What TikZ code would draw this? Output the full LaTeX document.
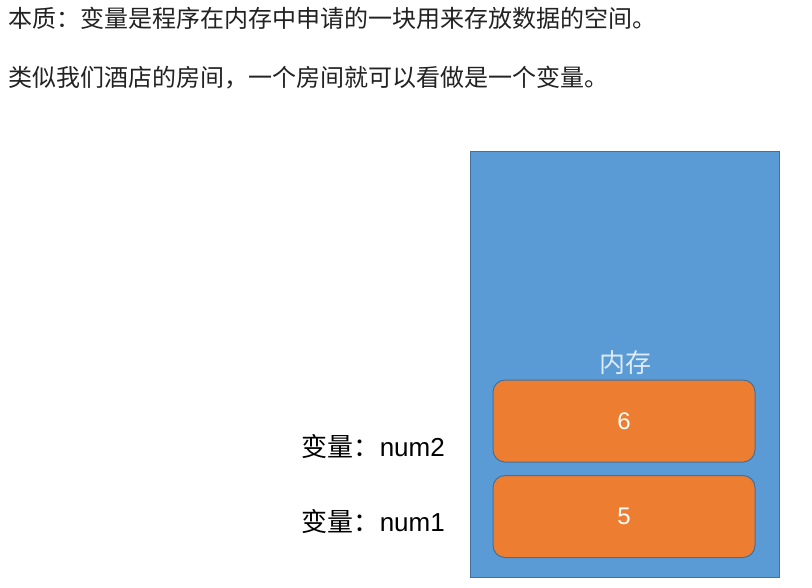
\documentclass[tikz,border=0pt]{standalone}
\usepackage{fontspec}
\setmainfont{Liberation Sans}
\newfontfamily\cjk{Noto Sans CJK SC}
\definecolor{memblue}{HTML}{5B9BD5}
\definecolor{memedge}{HTML}{41719C}
\definecolor{cellorange}{HTML}{ED7D31}
\definecolor{memtext}{HTML}{DDEBF7}
\definecolor{bodytext}{HTML}{222222}
\begin{document}
\begin{tikzpicture}[x=1pt,y=-1pt,
  headline/.style={anchor=west,inner sep=0pt,font=\cjk\fontsize{24}{28}\selectfont,text=bodytext},
  cell/.style={draw=memedge,line width=1pt,fill=cellorange,rounded corners=12pt,minimum width=262pt,minimum height=82pt,inner sep=0pt,font=\fontsize{24}{28}\selectfont,text=white},
  varlabel/.style={anchor=east,inner sep=0pt,font=\fontsize{26}{30}\selectfont,text=black}]
\useasboundingbox (0,0) rectangle (812,587);
\fill[white] (0,0) rectangle (812,587);
\node[headline] (l1) at (8,18) {本质：变量是程序在内存中申请的一块用来存放数据的空间。};
\node[headline] (l2) at (8,78) {类似我们酒店的房间，一个房间就可以看做是一个变量。};
\node[draw=memedge,line width=1pt,fill=memblue,minimum width=309pt,minimum height=426pt,inner sep=0pt] (mem) at (624.5,364) {};
\node[inner sep=0pt,font=\cjk\fontsize{26}{30}\selectfont,text=memtext] (memlabel) at (625,363) {内存};
\node[cell] (c2) at (624,421) {6};
\node[cell] (c1) at (624,516.5) {5};
\node[varlabel] (v2) at (445,447) {{\cjk 变量：}num2};
\node[varlabel] (v1) at (445,522) {{\cjk 变量：}num1};
\end{tikzpicture}
\end{document}
